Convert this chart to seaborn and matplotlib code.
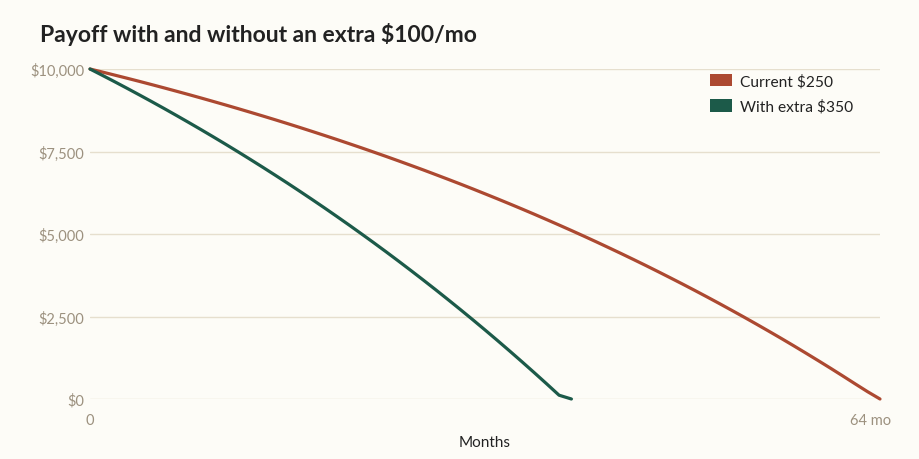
import pandas as pd
import seaborn as sns
import matplotlib
matplotlib.use('Agg')
import matplotlib.pyplot as plt
import matplotlib.transforms as mtransforms
from matplotlib.patches import Patch

# balances at the end of each month
current_balance = [
    10000, 9908, 9815, 9721, 9625, 9527, 9428, 9327, 9225, 9121,
    9015, 8908, 8799, 8688, 8576, 8462, 8346, 8228, 8108, 7986,
    7863, 7737, 7610, 7480, 7349, 7215, 7079, 6942, 6801, 6659,
    6515, 6368, 6218, 6067, 5913, 5757, 5598, 5436, 5272, 5106,
    4937, 4765, 4590, 4413, 4233, 4050, 3864, 3675, 3484, 3289,
    3091, 2890, 2685, 2478, 2267, 2053, 1836, 1615, 1390, 1162,
    931, 695, 456, 220, 0,
]
extra_balance = [
    10000, 9808, 9614, 9416, 9215, 9011, 8804, 8593, 8379, 8162,
    7941, 7717, 7489, 7257, 7022, 6783, 6541, 6294, 6044, 5790,
    5531, 5269, 5002, 4732, 4457, 4177, 3893, 3605, 3312, 3014,
    2712, 2405, 2093, 1776, 1454, 1127, 795, 458, 115, 0,
]
series_names = ['Current $250', 'With extra $350']
y_ticks = [0, 2500, 5000, 7500, 10000]
y_labels = ['$0', '$2,500', '$5,000', '$7,500', '$10,000']
x_ticks = [0, 64]
x_labels = ['0', '64 mo']

bg = '#FDFCF7'
red = '#AC4931'
green = '#1C5A49'
tick_col = '#9C917F'
grid_col = '#E6DFCE'
text_col = '#222222'

df = pd.concat([
    pd.DataFrame({'month': range(len(current_balance)), 'balance': current_balance, 'plan': series_names[0]}),
    pd.DataFrame({'month': range(len(extra_balance)), 'balance': extra_balance, 'plan': series_names[1]}),
])

sns.set_style('white')
plt.rcParams['font.family'] = ['Lato', 'DejaVu Sans']

fig = plt.figure(figsize=(9.2, 4.6), dpi=100, facecolor=bg)
ax = fig.add_axes([90 / 920, 60 / 460, 790 / 920, 330 / 460])
ax.set_facecolor(bg)

sns.lineplot(data=df, x='month', y='balance', hue='plan',
             palette={series_names[0]: red, series_names[1]: green},
             linewidth=2.3, ax=ax, legend=False, clip_on=False, zorder=3)

ax.set_xlim(0, 64)
ax.set_ylim(0, 10000)
ax.set_yticks(y_ticks)
ax.set_yticklabels(y_labels)
ax.set_xticks(x_ticks)
ax.set_xticklabels(x_labels)
ax.tick_params(axis='y', length=0, pad=4, labelsize=10.5, labelcolor=tick_col)
ax.tick_params(axis='x', length=0, pad=10, labelsize=10.5, labelcolor=tick_col)
ax.yaxis.grid(True, color=grid_col, linewidth=1)
ax.xaxis.grid(False)
ax.set_axisbelow(True)
for s in ax.spines.values():
    s.set_visible(False)

# the end label sits a little left of the last tick
shift = mtransforms.ScaledTranslation(-9 / 100, 0, fig.dpi_scale_trans)
last_lbl = ax.get_xticklabels()[-1]
last_lbl.set_transform(last_lbl.get_transform() + shift)

ax.set_xlabel('Months', fontsize=11, color=text_col, labelpad=6)
ax.set_ylabel('')

fig.text(40 / 920, 1 - 34 / 460, 'Payoff with and without an extra $100/mo',
         fontsize=16.5, fontweight='bold', color=text_col, va='center', ha='left')

handles = [Patch(facecolor=red, edgecolor='none'), Patch(facecolor=green, edgecolor='none')]
fig.legend(handles, series_names, loc='upper left', bbox_to_anchor=(710 / 920, 1 - 75 / 460),
           frameon=False, fontsize=11.2, borderpad=0, borderaxespad=0,
           handlelength=1.4, handleheight=0.85, handletextpad=0.5, labelspacing=0.68,
           labelcolor=text_col)

fig.savefig('out.png', dpi=100, facecolor=bg)
